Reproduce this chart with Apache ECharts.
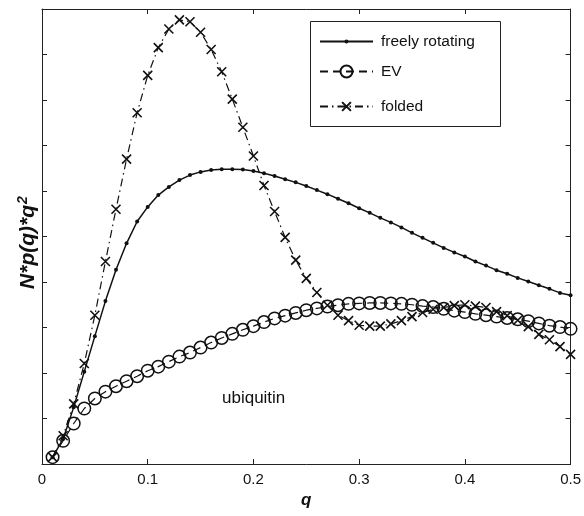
<!DOCTYPE html>
<html>
<head>
<meta charset="utf-8">
<script src="https://cdn.jsdelivr.net/npm/echarts@6/dist/echarts.min.js"></script>
<style>
  html, body { margin: 0; padding: 0; background: #fff; }
  #chart { width: 584px; height: 516px; }
</style>
</head>
<body>
<div id="chart"></div>
<script>
var qValues = [0.01,0.02,0.03,0.04,0.05,0.06,0.07,0.08,0.09,0.10,
  0.11,0.12,0.13,0.14,0.15,0.16,0.17,0.18,0.19,0.20,
  0.21,0.22,0.23,0.24,0.25,0.26,0.27,0.28,0.29,0.30,
  0.31,0.32,0.33,0.34,0.35,0.36,0.37,0.38,0.39,0.40,
  0.41,0.42,0.43,0.44,0.45,0.46,0.47,0.48,0.49,0.50];

var freelyRotating = [0.15,0.55,1.25,2.03,2.81,3.58,4.27,4.85,5.33,5.65,
  5.91,6.09,6.24,6.35,6.42,6.46,6.48,6.48,6.47,6.44,
  6.39,6.33,6.26,6.19,6.11,6.02,5.93,5.83,5.73,5.62,
  5.52,5.41,5.31,5.20,5.08,4.97,4.86,4.75,4.65,4.56,
  4.45,4.36,4.26,4.18,4.09,4.01,3.93,3.85,3.76,3.71];

var evValues = [0.15,0.51,0.89,1.22,1.44,1.59,1.71,1.82,1.93,2.05,
  2.14,2.25,2.36,2.45,2.56,2.67,2.77,2.86,2.95,3.03,
  3.12,3.20,3.26,3.32,3.38,3.42,3.46,3.49,3.52,3.53,
  3.54,3.54,3.53,3.52,3.50,3.47,3.45,3.41,3.37,3.34,
  3.30,3.27,3.24,3.21,3.18,3.14,3.09,3.04,3.01,2.97];

var foldedValues = [0.15,0.62,1.32,2.21,3.27,4.45,5.60,6.70,7.72,8.54,
  9.15,9.56,9.76,9.72,9.49,9.11,8.62,8.02,7.40,6.77,
  6.12,5.55,4.98,4.48,4.08,3.77,3.49,3.27,3.15,3.05,
  3.03,3.03,3.08,3.15,3.24,3.33,3.40,3.44,3.48,3.50,
  3.47,3.44,3.35,3.26,3.16,3.02,2.85,2.73,2.58,2.41];

var xTicks = ['0','0.1','0.2','0.3','0.4','0.5'];
var seriesNames = ['freely rotating','EV','folded'];

function pairs(vals) { return qValues.map(function (q, i) { return [q, vals[i]]; }); }

var FONT = '"Liberation Sans", Arial, Helvetica, sans-serif';
var crossPath = 'path://M0,0L10,10M10,0L0,10';

var chart = echarts.init(document.getElementById('chart'), null, { renderer: 'canvas' });
var axisLineStyle = { color: '#222', width: 1 };

function legendFor(name, centerY, itemHeight) {
  return {
    orient: 'horizontal', left: 319, top: centerY - itemHeight / 2,
    padding: 0, itemWidth: 53, itemHeight: itemHeight, selectedMode: false,
    textStyle: { fontFamily: FONT, fontSize: 15.5, color: '#111', padding: [0, 0, 0, 3] },
    data: [name]
  };
}

var option = {
  backgroundColor: '#fff',
  animation: false,
  grid: { left: 42, top: 9, right: 12, bottom: 52 },
  xAxis: [{
    type: 'value', min: 0, max: 0.5, interval: 0.1, position: 'bottom',
    name: 'q', nameLocation: 'middle', nameGap: 28,
    nameTextStyle: { fontFamily: FONT, fontSize: 17, fontWeight: 'bold', fontStyle: 'italic', color: '#111' },
    axisLine: { show: true, onZero: false, lineStyle: axisLineStyle },
    axisTick: { show: true, inside: true, length: 5, lineStyle: axisLineStyle },
    axisLabel: { fontFamily: FONT, fontSize: 15, color: '#111', margin: 8,
      formatter: function (v) { return xTicks[Math.round(v * 10)]; } },
    splitLine: { show: false }
  }, {
    type: 'value', min: 0, max: 0.5, interval: 0.1, position: 'top',
    axisLine: { show: true, onZero: false, lineStyle: axisLineStyle },
    axisTick: { show: true, inside: true, length: 5, lineStyle: axisLineStyle },
    axisLabel: { show: false }, splitLine: { show: false }
  }],
  yAxis: [{
    type: 'value', min: 0, max: 10, interval: 1, position: 'left',
    name: '{a|N*p(q)*q}{b|2}', nameLocation: 'middle', nameGap: 1, nameRotate: 90,
    nameTextStyle: {
      padding: [0, 12, 0, 0],
      rich: {
        a: { fontFamily: FONT, fontSize: 21, fontWeight: 'bold', fontStyle: 'italic', color: '#111' },
        b: { fontFamily: FONT, fontSize: 14, fontWeight: 'bold', fontStyle: 'italic', color: '#111', padding: [0, 0, 11, 1] }
      }
    },
    axisLine: { show: true, onZero: false, lineStyle: axisLineStyle },
    axisTick: { show: true, inside: true, length: 5, lineStyle: axisLineStyle },
    axisLabel: { show: false }, splitLine: { show: false }
  }, {
    type: 'value', min: 0, max: 10, interval: 1, position: 'right',
    axisLine: { show: true, onZero: false, lineStyle: axisLineStyle },
    axisTick: { show: true, inside: true, length: 5, lineStyle: axisLineStyle },
    axisLabel: { show: false }, splitLine: { show: false }
  }],
  legend: [
    legendFor(seriesNames[0], 36, 5),
    legendFor(seriesNames[1], 71, 15),
    legendFor(seriesNames[2], 104, 11)
  ],
  graphic: [{
    type: 'rect', left: 308, top: 19, z: 5,
    shape: { width: 190, height: 105 },
    style: { fill: 'none', stroke: '#222', lineWidth: 1 }
  }, {
    type: 'text', left: 222, top: 390,
    style: { text: 'ubiquitin', font: '17px ' + FONT, fill: '#111' }
  }],
  series: [{
    name: seriesNames[0], type: 'line', data: pairs(freelyRotating),
    symbol: 'circle', symbolSize: 4, showSymbol: true,
    lineStyle: { color: '#111', width: 1.5, type: 'solid' },
    itemStyle: { color: '#111' }, z: 3
  }, {
    name: seriesNames[1], type: 'line', data: pairs(evValues),
    symbol: 'circle', symbolSize: 12.5,
    lineStyle: { color: '#111', width: 1.2, type: [8, 5] },
    itemStyle: { color: 'rgba(0,0,0,0)', borderColor: '#111', borderWidth: 1.5 }, z: 2
  }, {
    name: seriesNames[2], type: 'line', data: pairs(foldedValues),
    symbol: crossPath, symbolSize: 9,
    lineStyle: { color: '#111', width: 1.2, type: [8, 4, 1.5, 4] },
    itemStyle: { color: 'rgba(0,0,0,0)', borderColor: '#111', borderWidth: 1.6 }, z: 4
  }]
};
chart.setOption(option);
</script>
</body>
</html>
